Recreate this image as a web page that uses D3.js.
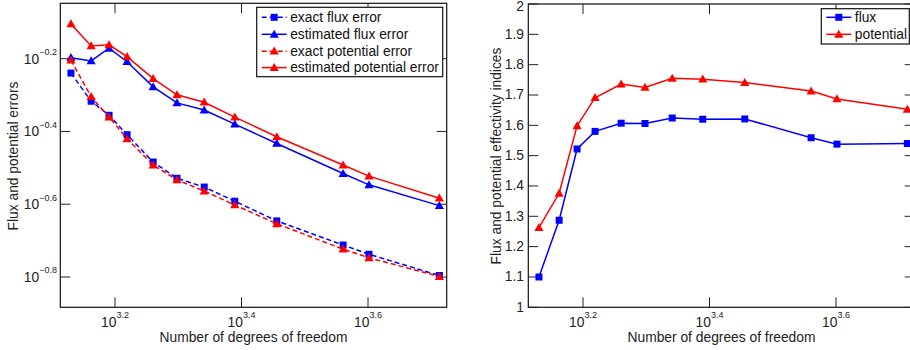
<!DOCTYPE html>
<html><head><meta charset="utf-8">
<script src="https://cdn.jsdelivr.net/npm/d3@7"></script>
<style>body{margin:0;background:#fff;} svg{display:block;font-family:"Liberation Sans",Arial,sans-serif;}</style>
</head><body><svg id="c" width="910" height="350"></svg>
<script>
// ---- data ----
const dofs = [1350, 1453, 1551, 1656, 1821, 1986, 2193, 2451, 2856, 3636, 3995, 5162];
const exactFluxError = [0.576, 0.482, 0.441, 0.390, 0.328, 0.296, 0.280, 0.256, 0.226, 0.194, 0.183, 0.160];
const estimatedFluxError = [0.635, 0.622, 0.674, 0.619, 0.528, 0.477, 0.456, 0.417, 0.369, 0.305, 0.284, 0.249];
const exactPotentialError = [0.625, 0.496, 0.436, 0.380, 0.322, 0.293, 0.273, 0.250, 0.222, 0.189, 0.179, 0.159];
const estimatedPotentialError = [0.786, 0.684, 0.689, 0.639, 0.556, 0.502, 0.479, 0.436, 0.385, 0.322, 0.300, 0.261];
const fluxIndex = [1.100, 1.287, 1.522, 1.580, 1.607, 1.606, 1.624, 1.620, 1.621, 1.559, 1.538, 1.540];
const potentialIndex = [1.263, 1.376, 1.598, 1.691, 1.736, 1.725, 1.755, 1.752, 1.741, 1.713, 1.687, 1.653];
const xTickExponents = ["3.2", "3.4", "3.6"];
const leftYTickExponents = ["\u22120.2", "\u22120.4", "\u22120.6", "\u22120.8"];
const rightYTicks = [1, 1.1, 1.2, 1.3, 1.4, 1.5, 1.6, 1.7, 1.8, 1.9, 2];
const leftLegend = ["exact flux error", "estimated flux error", "exact potential error", "estimated potential error"];
const rightLegend = ["flux", "potential"];

const BLUE = "#0000ff", RED = "#ff0000", FS = 13.8;
const svg = d3.select("#c");
const expNum = s => +s.replace("\u2212", "-");

function triPath(cx, cy) { return `M${cx},${cy-4.6}L${cx+4.6},${cy+3.4}L${cx-4.6},${cy+3.4}Z`; }
function drawMarker(g, type, x, y, color) {
  if (type === "sq") g.append("rect").attr("x", x-3.5).attr("y", y-3.5).attr("width", 7).attr("height", 7).attr("fill", color);
  else g.append("path").attr("d", triPath(x, y)).attr("fill", color);
}

function makePanel(left, top, w, h, yScaleFactory) {
  const g = svg.append("g");
  const x = d3.scaleLog().domain([Math.pow(10, 3.1135), Math.pow(10, 3.7244)]).range([left, left + w]);
  const y = yScaleFactory([top + h, top]);
  return {g, x, y, left, top, w, h};
}

function frame(p, xTicks, yTicks, yLabelFn, ylabel, labelX) {
  const {g, x, y, left, top, w, h} = p;
  const tl = 10;
  g.append("rect").attr("x", left).attr("y", top).attr("width", w).attr("height", h)
    .attr("fill", "none").attr("stroke", "#111").attr("stroke-width", 1.2);
  xTicks.forEach((e) => {
    const v = Math.pow(10, +e), px = x(v);
    g.append("line").attr("x1", px).attr("x2", px).attr("y1", top + h).attr("y2", top + h - tl).attr("stroke", "#222");
    g.append("line").attr("x1", px).attr("x2", px).attr("y1", top).attr("y2", top + tl).attr("stroke", "#222");
    const t = g.append("text").attr("x", px).attr("y", 327).attr("text-anchor", "middle").attr("font-size", FS).attr("fill", "#222");
    t.append("tspan").text("10");
    t.append("tspan").attr("dy", -9).attr("font-size", 9).text(e);
  });
  yTicks.forEach((v, i) => {
    const py = y(v);
    g.append("line").attr("x1", left).attr("x2", left + tl).attr("y1", py).attr("y2", py).attr("stroke", "#222");
    g.append("line").attr("x1", left + w).attr("x2", left + w - tl).attr("y1", py).attr("y2", py).attr("stroke", "#222");
    yLabelFn(g, v, i, py);
  });
  g.append("text").attr("x", left + w / 2).attr("y", 342).attr("text-anchor", "middle")
    .attr("font-size", FS).attr("fill", "#222").text("Number of degrees of freedom");
  g.append("text").attr("transform", `translate(${labelX},156) rotate(-90)`).attr("text-anchor", "middle")
    .attr("dominant-baseline", "central").attr("font-size", FS).attr("fill", "#222").text(ylabel);
}

function series(p, vals, color, dashed, marker) {
  const line = d3.line().x((d, i) => p.x(dofs[i])).y(d => p.y(d));
  p.g.append("path").attr("d", line(vals)).attr("fill", "none").attr("stroke", color)
    .attr("stroke-width", 1.5).attr("stroke-dasharray", dashed ? "5,3" : null);
  vals.forEach((v, i) => drawMarker(p.g, marker, p.x(dofs[i]), p.y(v), color));
}

function legend(g, x0, y0, w, rowsY, items) {
  g.append("rect").attr("x", x0).attr("y", y0).attr("width", w).attr("height", rowsY.h)
    .attr("fill", "#fff").attr("stroke", "#111").attr("stroke-width", 1.2);
  items.forEach((it, i) => {
    const yy = rowsY.ys[i];
    g.append("line").attr("x1", x0 + 5).attr("x2", x0 + 30).attr("y1", yy).attr("y2", yy)
      .attr("stroke", it.color).attr("stroke-width", 1.5).attr("stroke-dasharray", it.dashed ? "5,3" : null);
    drawMarker(g, it.marker, x0 + 17.5, yy, it.color);
    g.append("text").attr("x", x0 + 33.5).attr("y", yy).attr("dominant-baseline", "central")
      .attr("font-size", FS).attr("fill", "#111").text(it.label);
  });
}

// ---- left panel ----
const L = makePanel(60.3, 3.3, 386.4, 304, r => d3.scaleLog().domain([Math.pow(10, -0.8833), Math.pow(10, -0.0478)]).range(r));
frame(L, xTickExponents, leftYTickExponents.map(e => Math.pow(10, expNum(e))),
  (g, v, i, py) => {
    const t = g.append("text").attr("x", 57).attr("y", py + 5).attr("text-anchor", "end").attr("font-size", FS).attr("fill", "#222");
    t.append("tspan").text("10");
    t.append("tspan").attr("dy", -8.5).attr("font-size", 9).text(leftYTickExponents[i]);
  }, "Flux and potential errors", 13);
series(L, exactFluxError, BLUE, true, "sq");
series(L, estimatedFluxError, BLUE, false, "tri");
series(L, exactPotentialError, RED, true, "tri");
series(L, estimatedPotentialError, RED, false, "tri");
legend(L.g, 256.7, 7.3, 186, {h: 69.4, ys: [17.3, 34.3, 51.2, 67.6]}, [
  {label: leftLegend[0], color: BLUE, dashed: true, marker: "sq"},
  {label: leftLegend[1], color: BLUE, dashed: false, marker: "tri"},
  {label: leftLegend[2], color: RED, dashed: true, marker: "tri"},
  {label: leftLegend[3], color: RED, dashed: false, marker: "tri"}
]);

// ---- right panel ----
const R = makePanel(528.3, 4, 386.4, 303.3, r => d3.scaleLinear().domain([1, 2]).range(r));
frame(R, xTickExponents, rightYTicks,
  (g, v, i, py) => {
    g.append("text").attr("x", 524).attr("y", Math.max(py, 6)).attr("text-anchor", "end").attr("dominant-baseline", "central")
      .attr("font-size", FS).attr("fill", "#222").text(d3.format("")(v));
  }, "Flux and potential effectivity indices", 496);
series(R, fluxIndex, BLUE, false, "sq");
series(R, potentialIndex, RED, false, "tri");
legend(R.g, 821.3, 8.7, 88, {h: 35.3, ys: [17.3, 34.3]}, [
  {label: rightLegend[0], color: BLUE, dashed: false, marker: "sq"},
  {label: rightLegend[1], color: RED, dashed: false, marker: "tri"}
]);
</script></body></html>
